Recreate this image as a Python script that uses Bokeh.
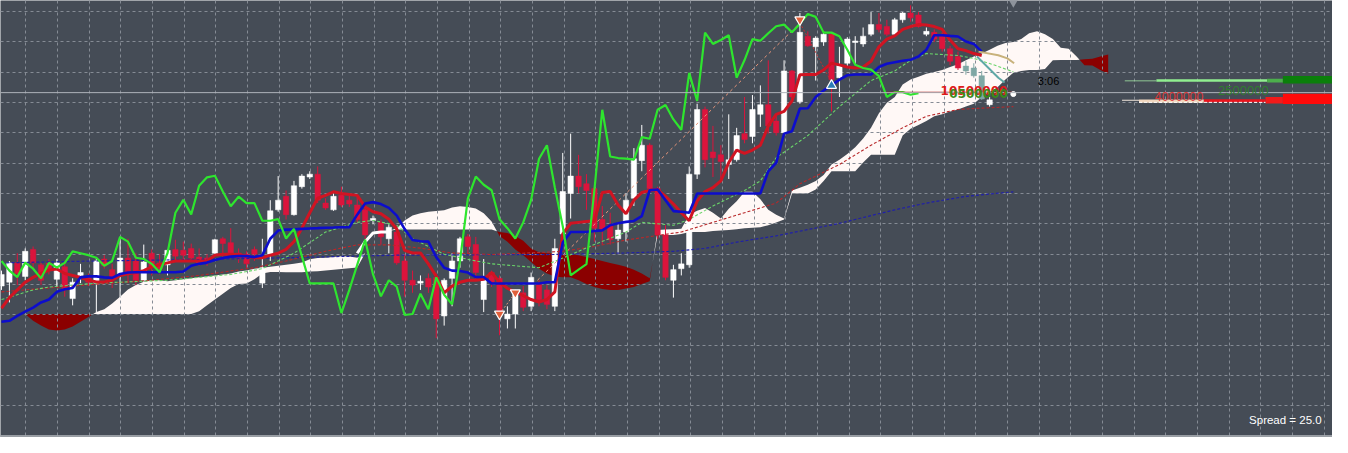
import numpy as np
from bokeh.plotting import figure
from bokeh.models import Range1d, Grid, FixedTicker, Span, Label
from bokeh.embed import file_html
from bokeh.resources import INLINE

# ---------------- data (price axis is drawn inverted: smaller value = higher on chart) -------------
open_ = [296, 292, 272, 286, 258, 274, 272, 289, 276, 309,
         285, 287, 293, 268, 279, 285, 267, 270, 290, 262,
         272, 274, 258, 259, 257, 266, 267, 262, 247, 251,
         262, 263, 258, 293, 263, 217, 203, 222, 193, 183,
         180, 210, 217, 202, 207, 212, 217, 228, 230, 247,
         240, 270, 290, 293, 288, 287, 327, 288, 270, 245,
         253, 310, 282, 288, 330, 325, 303, 317, 294, 300,
         317, 242, 200, 182, 190, 195, 227, 233, 247, 240,
         205, 166, 150, 195, 243, 290, 278, 274, 180, 113,
         157, 160, 170, 165, 138, 141, 118, 108, 125, 137,
         73, 105, 37, 48, 43, 35, 80, 65, 43, 45,
         35, 25, 27, 35, 20, 13, 15, 35, 33, 37,
         50, 58, 68, 70, 78, 108]
high = [280, 270, 262, 257, 255, 272, 268, 268, 270, 288,
        273, 283, 266, 264, 273, 245, 247, 262, 253, 258,
        263, 258, 248, 250, 252, 257, 263, 247, 245, 236,
        257, 260, 255, 247, 207, 182, 197, 187, 180, 177,
        172, 205, 200, 193, 200, 202, 213, 223, 227, 232,
        233, 263, 280, 285, 283, 283, 288, 262, 245, 242,
        245, 268, 280, 285, 317, 300, 296, 282, 290, 295,
        247, 158, 138, 160, 180, 193, 213, 220, 230, 200,
        153, 129, 148, 193, 233, 274, 262, 172, 107, 110,
        130, 150, 118, 132, 100, 98, 88, 62, 120, 62,
        72, 13, 32, 37, 32, 33, 48, 38, 37, 28,
        12, 13, 20, 18, 12, 5, 12, 28, 30, 33,
        47, 53, 63, 65, 73, 100]
low = [300, 313, 295, 290, 277, 295, 284, 297, 307, 316,
       293, 296, 323, 278, 298, 308, 293, 295, 293, 285,
       284, 285, 270, 270, 270, 275, 275, 264, 268, 267,
       272, 277, 270, 298, 270, 219, 227, 223, 195, 185,
       210, 217, 218, 214, 214, 230, 247, 232, 253, 262,
       274, 307, 303, 300, 303, 350, 337, 317, 277, 263,
       290, 323, 297, 347, 340, 340, 322, 322, 317, 320,
       322, 250, 226, 200, 217, 250, 253, 253, 263, 250,
       213, 177, 200, 247, 290, 308, 285, 277, 185, 173,
       183, 187, 185, 167, 148, 148, 131, 138, 140, 138,
       103, 107, 48, 83, 47, 115, 100, 68, 67, 48,
       37, 33, 37, 37, 23, 22, 28, 37, 43, 53,
       67, 72, 77, 80, 103, 110]
close = [284, 272, 283, 260, 272, 290, 280, 272, 300, 292,
         282, 292, 270, 275, 287, 267, 282, 290, 271, 276,
         278, 259, 265, 264, 267, 273, 272, 248, 252, 263,
         267, 273, 263, 277, 218, 207, 222, 192, 182, 180,
         207, 215, 203, 212, 211, 227, 243, 226, 245, 235,
         272, 290, 295, 291, 297, 330, 290, 270, 247, 255,
         282, 290, 292, 322, 325, 305, 318, 287, 310, 315,
         257, 198, 182, 193, 197, 236, 238, 248, 238, 207,
         164, 150, 195, 243, 287, 279, 273, 180, 113, 165,
         163, 167, 165, 140, 144, 113, 108, 130, 137, 73,
         100, 33, 47, 39, 35, 82, 67, 40, 42, 37,
         25, 30, 35, 20, 13, 18, 27, 32, 40, 50,
         63, 70, 73, 78, 102, 103]

tenkan = [319, 308, 300, 292, 287, 283, 279.5, 278.3, 283, 285,
          287, 290, 291.7, 291.7, 290, 285, 283.3, 282, 280, 276,
          274, 272, 270, 270, 270, 270, 270, 264, 263, 263,
          263.3, 265, 266.7, 266.7, 264, 262, 258, 250, 236, 220,
          205, 202, 198.3, 200, 201, 202, 214, 219, 221, 226.7,
          237, 259, 261.7, 261.7, 273, 286, 303, 296, 292, 290,
          290, 289, 282, 292, 298.3, 302, 306, 310, 312.5, 310,
          302, 242, 231, 230, 229, 228.3, 199, 198, 212, 221,
          207, 199, 197, 196, 203, 211, 220, 228.3, 208, 198,
          194, 187, 168, 155, 158.5, 155, 150, 130, 118, 115,
          104, 77, 76.7, 76.7, 72, 65, 66.7, 69, 70, 69,
          63, 48, 40, 36.7, 30, 27, 25, 25.5, 27, 30,
          41, 50, 52, 55, 57]
kijun = [333, 332, 327, 322.5, 318.3, 313, 310, 302, 299.3, 298,
         287, 286, 286, 287, 287.5, 283.5, 282, 281.7, 281.7, 281.7,
         281.7, 281.7, 281.7, 281, 275, 273, 271.7, 269, 267, 265.5,
         265, 265, 266, 264, 247, 238.5, 237.5, 237.3, 236.7, 236.3,
         236, 235.5, 235.3, 235, 235, 222, 210.5, 209, 211, 215,
         223, 237, 248.3, 249.5, 250, 266, 277, 280, 280.3, 282,
         286.7, 286.7, 293.3, 293.3, 293.3, 293.3, 293.3, 293.3, 293.3, 292,
         292, 251, 240, 240, 240, 239, 238.3, 233, 231, 229.5,
         228.5, 223.5, 196.7, 196, 207, 218.3, 219, 220, 200, 200,
         200, 200, 200, 200, 200, 200, 200, 177, 168.3, 138,
         135.5, 112, 111.7, 100, 93.3, 88, 82, 77.5, 76.7, 76.7,
         76.7, 69, 65.5, 64, 62.5, 61.5, 58, 51, 36, 36,
         36.7, 37.3, 42.5, 45, 53]
chikou = [270, 280, 286.7, 271.7, 278, 288, 272, 276.7, 272, 260,
          262, 264, 266.7, 275, 270, 245, 250, 266.7, 268, 273,
          281.7, 262, 220, 206.7, 221.7, 192, 183.3, 181.7, 198, 213.3,
          203.3, 210, 210, 228.3, 228.3, 226.7, 246.7, 236.7, 265, 293.3,
          293.3, 293.3, 293.3, 324, 300, 274, 248, 284, 306.7, 290,
          296.7, 326, 325, 304, 320, 287, 305, 315, 270, 205,
          182.5, 191, 196.7, 226.7, 236, 246.7, 230, 206.7, 164, 150,
          194, 234, 285, 279, 273.3, 196.7, 113.3, 161.7, 163.3, 164,
          165, 141.7, 143.3, 113.3, 108.3, 123.3, 134, 75, 104, 33.3,
          45, 41, 36, 80, 61.7, 40, 41.7, 34, 26.7, 25,
          33, 24, 14, 17, 33.3, 33.3, 37, 51, 66.7, 70,
          71.7, 78.3, 100, 95, 95, 97.7, 96]

cloud_first_bar = 3
span_a = [325, 332, 337, 341, 342, 341, 338, 333, 328, 323,
          320, 314, 307, 299.5, 295, 291.5, 290, 290, 291, 290,
          289, 288, 287, 286, 285, 284, 283, 281, 280, 278,
          277, 276, 275, 274, 273, 271.7, 268.3, 267, 266.7, 266,
          265, 265.5, 266.7, 262, 252, 245, 239, 236, 228, 223,
          220.5, 219, 218.3, 217.5, 214.5, 213.3, 214, 215.5, 220.5, 229,
          244, 250, 258, 264, 271, 278, 283, 286, 287, 287,
          290, 294, 297, 299, 300, 300, 298.5, 297, 294, 291,
          238, 237.5, 237, 236.7, 222, 218, 215, 220, 226, 216,
          208, 198.3, 198.3, 206, 217, 222, 226, 197, 194, 191,
          187, 181, 170, 165, 159, 152, 143, 132, 117, 106,
          100, 87, 82, 79, 76, 74, 72, 69, 66, 62,
          58, 55, 51, 47, 44, 43, 40, 34, 32, 35,
          40, 49, 50, 58, 67, 67.5, 72, 76]
span_b = [325, 325, 325, 325, 325, 325, 325, 325, 325, 325,
          325, 325, 325, 325, 325, 325, 325, 325, 325, 325,
          325, 325, 322, 316, 310, 304, 298, 294, 293.3, 289,
          283, 281.5, 281.5, 281.7, 281.7, 281.7, 281, 280.7, 280, 279,
          278.3, 277.5, 276.7, 262, 252, 245, 239, 237.3, 237.3, 237.3,
          237.3, 237.3, 237.3, 237.3, 237.3, 237.3, 237.3, 237.3, 237.3, 237.3,
          240, 241, 244, 249, 257, 261, 262, 262, 263, 263,
          264, 266, 268, 270, 272, 274, 276, 279, 283, 288,
          243, 243, 243, 242, 240, 240, 240, 239, 238.5, 238,
          237, 236, 235.5, 235, 233, 230, 227, 200, 200, 200,
          196, 187, 177, 177, 177, 177, 168, 160, 160, 160,
          160, 140, 133, 129, 125, 120, 118, 115, 113, 110,
          107, 100, 95, 90, 82, 75, 73, 72, 72, 71,
          62, 61.7, 61.7, 61.7, 61, 60.5, 58, 56]

ma_slow_bar = [0, 12, 25, 37, 50, 62, 70, 79, 85, 89, 93, 98, 102, 106, 108, 113, 117, 122, 128]
ma_slow = [272, 270, 268.5, 266.5, 264, 263.5, 263.3, 261.7, 260, 257, 250.5, 244, 237.5, 231, 227,
           217, 210, 203, 198.3]
ma_mid_bar = [0, 6, 12, 19, 25, 32, 36, 41, 45, 49, 53, 57, 62, 66, 71, 75, 79, 86, 90, 94, 98,
              101, 106, 110, 114, 117, 121, 123, 128]
ma_mid = [302, 298, 294, 290, 285, 277, 270, 260, 253.3, 253.3, 256.7, 261.7, 263.3, 262, 260, 255,
          248.3, 240, 230, 220, 210, 190, 170, 150, 132, 120, 113, 112, 110]
ma_fast_bar = [0, 4, 6, 12, 21, 29, 33, 37, 41, 45, 47, 50, 52, 56, 60, 62, 68, 71, 75, 79, 81, 85,
               87, 90, 94, 96, 98, 102, 106, 110, 113, 115, 117, 121, 123, 126, 128]
ma_fast = [310, 300, 297, 293, 290, 284, 278, 262, 240, 230, 228, 233, 247, 263, 270, 273, 277, 267,
           253, 240, 230, 233, 227, 213, 197, 187, 163, 140, 110, 83, 73, 62, 55, 57, 60, 68, 74]

trend_bar = [67.8, 100.8]
trend_price = [290, 25]
signal_link_bar = [[63, 65], [101, 105]]
signal_link_price = [[325, 303], [23, 85]]
sell_bar, sell_price = [63, 65, 101], [325, 303, 20]
buy_bar, buy_price = [105], [88]
base_proj_bar, base_proj = [123.6, 126.1, 127.25, 128.1], [53, 56.7, 60, 65]
conv_proj_bar, conv_proj = [123.4, 126.1, 126.9], [58, 80, 85]
swing_bar, swing = [45, 46, 47, 48, 49], [262, 250, 241, 240, 240]
bid_price = 95.5
last_bar_range = [112, 128]
last_price = 95.3

# market depth (volume blocks to the right of price)
dom_left = [142.1, 146.1, 160.1, 162.1, 141.75, 143.9, 152.1, 159.9, 162.1]
dom_right = [146.1, 160.1, 162.1, 168.3, 143.9, 152.1, 159.9, 162.1, 168.3]
dom_top = [82.8, 81.7, 81.0, 78.3, 103.0, 102.5, 102.4, 100.0, 96.7]
dom_bottom = [83.8, 84.3, 85.0, 86.0, 104.0, 106.0, 105.6, 106.7, 107.3]
dom_color = ["#a8eea8", "#90ee90", "#4cae4c", "#0b7f0b", "#f3e7dc", "#f2d8c0", "#e8141e",
             "#f21a1a", "#ff0a0a"]

# ---------------- figure ----------------
BG = "#454c56"
p = figure(width=1332, height=437, x_range=Range1d(-0.125, 168.375), y_range=Range1d(453, 0),
           x_axis_type=None, y_axis_type=None, toolbar_location=None, output_backend="svg",
           background_fill_color=BG, border_fill_color=BG, min_border=0, outline_line_color=None)

p.add_layout(Grid(dimension=0, ticker=FixedTicker(ticks=list(3.06 + 4.006 * np.arange(42))),
                  grid_line_color="#858b94", grid_line_dash="3 3", grid_line_width=1))
p.add_layout(Grid(dimension=1, ticker=FixedTicker(ticks=list(11.5 + 31.42 * np.arange(14))),
                  grid_line_color="#858b94", grid_line_dash="3 3", grid_line_width=1))

# cloud, with crossing points inserted
A = np.array(span_a, float)
B = np.array(span_b, float)
cb = np.arange(len(A)) + cloud_first_bar
xs, ya, yb = [cb[0]], [A[0]], [B[0]]
for i in range(len(A) - 1):
    d0, d1 = A[i] - B[i], A[i + 1] - B[i + 1]
    if d0 * d1 < 0:
        t = d0 / (d0 - d1)
        v = A[i] + t * (A[i + 1] - A[i])
        xs.append(cb[i] + t); ya.append(v); yb.append(v)
    xs.append(cb[i + 1]); ya.append(A[i + 1]); yb.append(B[i + 1])
xs, ya, yb = np.array(xs), np.array(ya), np.array(yb)
lowest = np.maximum(ya, yb)
r1 = p.varea(x=xs, y1=ya, y2=lowest, fill_color="#fff8f6")
r2 = p.varea(x=xs, y1=yb, y2=lowest, fill_color="#8b0000")
r1.level = "image"
r2.level = "image"

# candles
bars = np.arange(len(open_))
o = np.array(open_, float)
c = np.array(close, float)
up = c < o
col = np.where(up, "#ffffff", "#dc143c").astype(object)
col[122:125] = "#7fa7a4"
btop = np.minimum(o, c)
bbot = np.maximum(np.maximum(o, c), btop + 1.5)
p.segment(x0=bars, y0=high, x1=bars, y1=low, line_color=list(col), line_width=1)
p.vbar(x=bars, width=0.68, top=btop, bottom=bbot, fill_color=list(col), line_color=list(col),
       line_width=0.5)

# moving averages (dashed)
p.line(ma_slow_bar, ma_slow, line_color="#2020a8", line_width=1.2, line_dash="3 2")
p.line(ma_mid_bar, ma_mid, line_color="#b8282a", line_width=1.1, line_dash="3 2")
p.line(ma_fast_bar, ma_fast, line_color="#6ad56a", line_width=1.1, line_dash="3 2")
p.line(trend_bar, trend_price, line_color="#e9967a", line_width=1, line_dash="3 3")
p.line(signal_link_bar[0], signal_link_price[0], line_color="#e9967a", line_width=1, line_dash="2 2")
p.line(signal_link_bar[1], signal_link_price[1], line_color="#c03030", line_width=1, line_dash="2 2")

# ichimoku lines
p.line(list(range(len(tenkan))), tenkan, line_color="#d01422", line_width=3)
p.line(list(range(len(kijun))), kijun, line_color="#0d0dcc", line_width=2.6)
p.line(swing_bar, swing, line_color="#ffffff", line_width=3)
p.line(list(range(len(chikou))), chikou, line_color="#2ee52e", line_width=2.2)
p.line(base_proj_bar, base_proj, line_color="#c8b27c", line_width=2)
p.line(conv_proj_bar, conv_proj, line_color="#5fa8a6", line_width=2)

# price lines
p.add_layout(Span(location=bid_price, dimension="width", line_color="#aeb3ba", line_width=1))
p.add_layout(Span(location=451.5, dimension="width", line_color="#b4b8be", line_width=1.5))
p.line(last_bar_range, [last_price, last_price], line_color="#b01818", line_width=1.2)

# signal arrows
p.scatter(sell_bar, sell_price, marker="inverted_triangle", size=10, fill_color="#e0603a",
          line_color="#ffffff", line_width=1.2)
p.scatter(buy_bar, buy_price, marker="triangle", size=10, fill_color="#2b7cb5",
          line_color="#ffffff", line_width=1.2)
p.scatter([128], [97], marker="circle", size=5, fill_color="#ffffff", line_color="#ffffff")
p.scatter([128], [1], marker="inverted_triangle", size=11, fill_color="#8d939b", line_color=None)

# depth blocks
p.quad(left=dom_left, right=dom_right, top=dom_top, bottom=dom_bottom, fill_color=dom_color,
       line_color=None)
p.line([143.9, 159.9], [105.6, 105.6], line_color="#ffffff", line_width=1, line_dash="3 2")

# texts
p.add_layout(Label(x=118.8, y=93.5, text="10500000", text_color="#dd1a1a", text_font="DejaVu Sans",
                   text_font_style="bold", text_font_size="12px", text_baseline="alphabetic"))
p.add_layout(Label(x=119.9, y=96.2, text="0500000", text_color="#3d8a1a", text_font="DejaVu Sans",
                   text_font_style="bold", text_font_size="12px", text_baseline="alphabetic"))
p.add_layout(Label(x=131.1, y=83.5, text="3:06", text_color="#000000", text_font="Liberation Sans",
                   text_font_size="11px", text_baseline="alphabetic"))
p.add_layout(Label(x=145.9, y=99.5, text="4000000", text_color="#d83a3a", text_font="Liberation Sans",
                   text_font_size="12.5px", text_baseline="alphabetic"))
p.add_layout(Label(x=153.9, y=93, text="2500000", text_color="#2f7d2f", text_font="Liberation Sans",
                   text_font_size="13px", text_baseline="alphabetic"))
p.add_layout(Label(x=167.0, y=435, text="Spread = 25.0", text_color="#ffffff",
                   text_font="Liberation Sans", text_font_size="11.5px", text_align="right",
                   text_baseline="alphabetic"))

open("out.html", "w").write(file_html(p, INLINE))
